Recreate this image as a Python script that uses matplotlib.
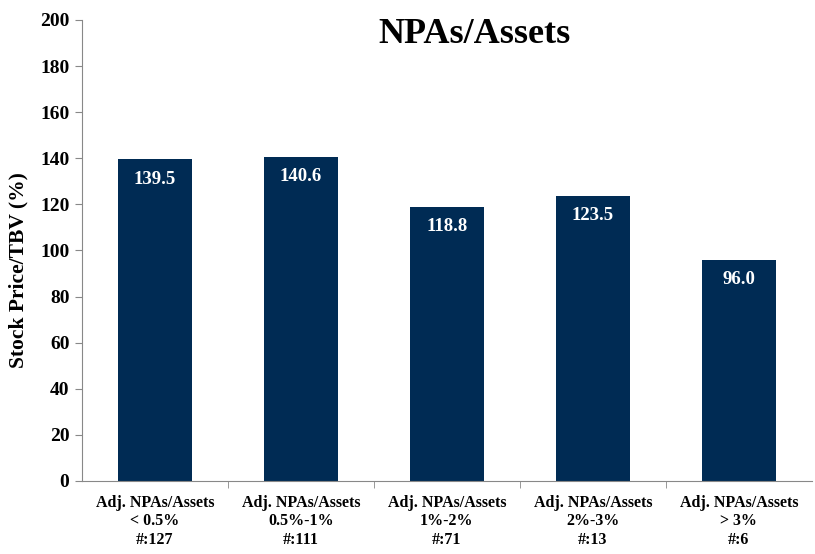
import matplotlib
matplotlib.use("Agg")
import matplotlib.pyplot as plt
from matplotlib.ticker import FixedLocator

categories = ["Adj. NPAs/Assets\n< 0.5%\n#:127", "Adj. NPAs/Assets\n0.5%-1%\n#:111",
              "Adj. NPAs/Assets\n1%-2%\n#:71", "Adj. NPAs/Assets\n2%-3%\n#:13",
              "Adj. NPAs/Assets\n> 3%\n#:6"]
values = [139.5, 140.6, 118.8, 123.5, 96.0]
yticks = [0, 20, 40, 60, 80, 100, 120, 140, 160, 180, 200]

plt.rcParams['font.family'] = ['Liberation Serif', 'DejaVu Serif']
color = "#002b54"

fig = plt.figure(figsize=(8.15, 5.54), dpi=100)
ax = fig.add_axes([0.1006, 0.1318, 0.8954, 0.8321])
x = list(range(len(values)))
ax.bar(x, values, width=0.51, color=color)
for xi, v in zip(x, values):
    ax.annotate(f"{v:.1f}", (xi, v), xytext=(0, -8), textcoords="offset points",
                ha="center", va="top", color="white", fontsize=13.5, fontweight="bold")

ax.set_xlim(-0.5, len(values) - 0.5)
ax.set_ylim(0, 200)
ax.set_yticks(yticks)
ax.set_yticklabels([str(t) for t in yticks], fontsize=14, fontweight="bold")
ax.set_xticks(x)
ax.set_xticklabels(categories, fontsize=11.5, fontweight="bold", linespacing=1.2)
ax.tick_params(axis="x", length=0, pad=10)
ax.xaxis.set_minor_locator(FixedLocator([i + 0.5 for i in range(len(values) - 1)]))
ax.tick_params(axis="x", which="minor", length=5, color="#888888", direction="out")
ax.tick_params(axis="y", length=5, color="#888888", pad=4)
for s in ["top", "right"]:
    ax.spines[s].set_visible(False)
for s in ["left", "bottom"]:
    ax.spines[s].set_color("#888888")
    ax.spines[s].set_linewidth(0.8)
ax.set_ylabel("Stock Price/TBV (%)", fontsize=15.5, fontweight="bold")
ax.yaxis.set_label_coords(-0.074, 0.458)
fig.text(0.582, 0.937, "NPAs/Assets", ha="center", va="center", fontsize=26, fontweight="bold")
fig.savefig("out.png", dpi=100)
